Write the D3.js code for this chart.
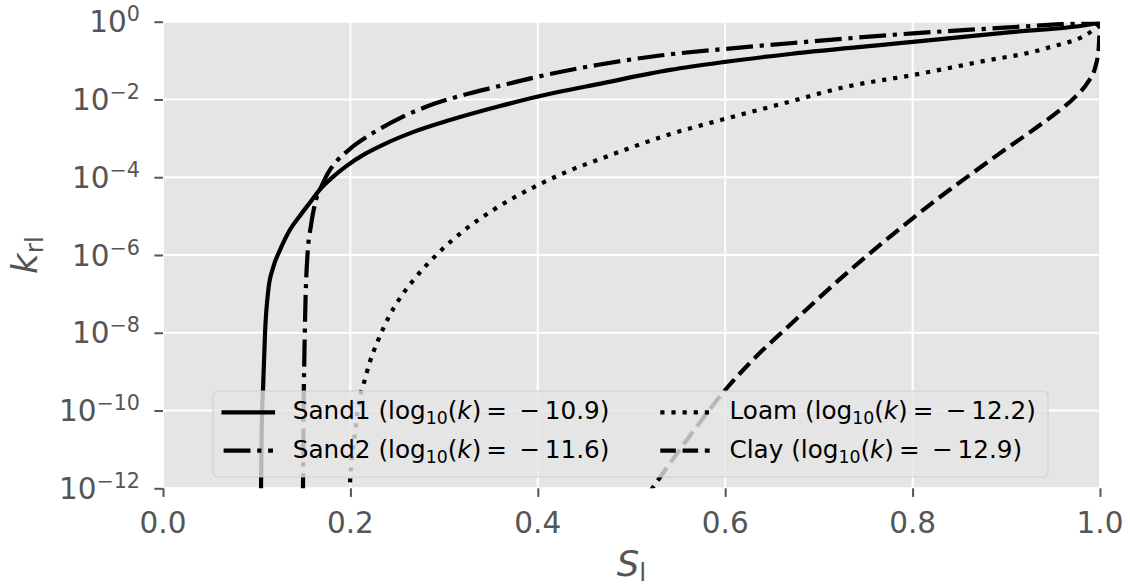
<!DOCTYPE html>
<html>
<head>
<meta charset="utf-8">
<script src="https://cdn.jsdelivr.net/npm/d3@7"></script>
<style>
  html, body { margin: 0; padding: 0; background: #fff; }
  svg { display: block; }
  text { font-family: "DejaVu Sans", sans-serif; }
</style>
</head>
<body>
<svg id="chart" width="1130" height="588"></svg>
<script>
// ---- Data ----
// Saturation S_l and log10(k_rl) for each soil
const sand1S    = [0.1043, 0.1046, 0.1053, 0.1070, 0.1089, 0.1124, 0.1177, 0.1249, 0.1355, 0.1462, 0.1569, 0.1676, 0.1814, 0.1964, 0.2156, 0.2369, 0.2668, 0.3063, 0.3597, 0.3991, 0.4696, 0.5411, 0.5977, 0.6692, 0.8004, 0.8997, 0.9963, 1.0000];
const sand1LogK = [-12.30, -12.02, -10.57, -9.29, -8.00, -6.90, -6.31, -5.87, -5.35, -4.99, -4.65, -4.31, -3.99, -3.70, -3.40, -3.14, -2.84, -2.53, -2.17, -1.93, -1.58, -1.24, -1.04, -0.83, -0.52, -0.28, -0.04, 0.0];

const sand2S    = [0.1489, 0.1494, 0.1499, 0.1508, 0.1521, 0.1542, 0.1580, 0.1633, 0.1697, 0.1761, 0.1846, 0.1996, 0.2209, 0.2529, 0.2850, 0.3095, 0.3597, 0.3991, 0.4664, 0.5304, 0.5998, 0.6809, 0.8004, 0.8933, 1.0000];
const sand2LogK = [-12.30, -12.01, -10.24, -8.70, -7.15, -6.00, -5.23, -4.58, -4.20, -3.89, -3.61, -3.27, -2.91, -2.48, -2.15, -1.96, -1.65, -1.42, -1.10, -0.87, -0.70, -0.53, -0.30, -0.16, 0.0];

const loamS     = [0.1975, 0.1993, 0.2049, 0.2102, 0.2138, 0.2209, 0.2298, 0.2404, 0.2529, 0.2689, 0.2938, 0.3223, 0.3525, 0.3970, 0.4308, 0.4700, 0.5410, 0.5980, 0.6592, 0.7297, 0.8007, 0.8720, 0.9430, 0.9928, 1.0000];
const loamLogK  = [-13.0, -12.0, -10.57, -9.64, -9.34, -8.74, -8.18, -7.62, -7.11, -6.60, -5.95, -5.35, -4.84, -4.24, -3.86, -3.50, -2.895, -2.51, -2.12, -1.67, -1.37, -1.03, -0.68, -0.21, 0.0];

const clayS     = [0.5144, 0.5219, 0.5624, 0.6019, 0.6339, 0.6659, 0.6980, 0.7300, 0.7652, 0.8004, 0.8324, 0.8613, 0.8933, 0.9253, 0.9520, 0.9733, 0.9872, 0.9947, 0.9984, 1.0000];
const clayLogK  = [-12.27, -12.01, -10.65, -9.42, -8.59, -7.87, -7.15, -6.46, -5.74, -5.05, -4.45, -3.94, -3.38, -2.84, -2.37, -1.94, -1.55, -1.19, -0.73, 0.0];

const seriesNames  = ["Sand1", "Sand2", "Loam", "Clay"];
const seriesLog10k = ["10.9", "11.6", "12.2", "12.9"];

// Tick labels
const xTicks    = [0.0, 0.2, 0.4, 0.6, 0.8, 1.0];
const yTickExps = [0, -2, -4, -6, -8, -10, -12];

// ---- Layout ----
const plot = { left: 163, right: 1100, top: 21.7, bottom: 488.3 };
const LW = 4.2;
const tickFont = 29.5, legendFont = 24.7, labelFont = 35.6;
const grayText = "#555555";

const svg = d3.select("#chart");

const x = d3.scaleLinear().domain([0, 1]).range([plot.left, plot.right]);
const y = d3.scaleLog().domain([1e-12, 1]).range([plot.bottom, plot.top]);

// background
svg.append("rect")
  .attr("x", plot.left).attr("y", plot.top)
  .attr("width", plot.right - plot.left).attr("height", plot.bottom - plot.top)
  .attr("fill", "#E5E5E5");

// grid
const grid = svg.append("g");
grid.selectAll("line.gx").data(xTicks).enter().append("line")
  .attr("x1", d => x(d)).attr("x2", d => x(d))
  .attr("y1", plot.top).attr("y2", plot.bottom)
  .attr("stroke", "#fff").attr("stroke-width", 2);
grid.selectAll("line.gy").data(yTickExps).enter().append("line")
  .attr("y1", d => y(Math.pow(10, d))).attr("y2", d => y(Math.pow(10, d)))
  .attr("x1", plot.left).attr("x2", plot.right)
  .attr("stroke", "#fff").attr("stroke-width", 2);

// axes (tick marks)
const xAxis = d3.axisBottom(x).tickValues(xTicks).tickSize(8.6).tickFormat("");
const yAxis = d3.axisLeft(y).tickValues(yTickExps.map(e => Math.pow(10, e))).tickSize(8.6).tickFormat("");
const gx = svg.append("g").attr("transform", `translate(0,${plot.bottom})`).call(xAxis);
const gy = svg.append("g").attr("transform", `translate(${plot.left},0)`).call(yAxis);
[gx, gy].forEach(g => {
  g.select(".domain").remove();
  g.selectAll(".tick line").attr("stroke", grayText).attr("stroke-width", 2);
});

// x tick labels
svg.append("g").selectAll("text").data(xTicks).enter().append("text")
  .attr("x", d => x(d)).attr("y", 533)
  .attr("text-anchor", "middle")
  .attr("font-size", tickFont).attr("fill", grayText)
  .text(d => d3.format(".1f")(d));

// y tick labels 10^e
const yl = svg.append("g").selectAll("text").data(yTickExps).enter().append("text")
  .attr("x", 140).attr("y", d => y(Math.pow(10, d)) + 10.5)
  .attr("text-anchor", "end")
  .attr("font-size", tickFont).attr("fill", grayText);
yl.append("tspan").text("10");
yl.append("tspan").attr("dy", -11).attr("font-size", tickFont * 0.7)
  .text(d => (d < 0 ? "\u2212" : "") + Math.abs(d));

// axis labels
const xLab = svg.append("text")
  .attr("x", (plot.left + plot.right) / 2).attr("y", 576)
  .attr("text-anchor", "middle").attr("font-size", labelFont).attr("fill", grayText);
xLab.append("tspan").attr("font-style", "italic").text("S");
xLab.append("tspan").attr("dy", 5).attr("font-size", labelFont * 0.7).text("l");

const yLab = svg.append("text")
  .attr("transform", `translate(37,${(plot.top + plot.bottom) / 2}) rotate(-90)`)
  .attr("text-anchor", "middle").attr("font-size", labelFont).attr("fill", grayText);
yLab.append("tspan").attr("font-style", "italic").text("k");
yLab.append("tspan").attr("dy", 6).attr("font-size", labelFont * 0.7).text("rl");

// clip
svg.append("clipPath").attr("id", "clip").append("rect")
  .attr("x", plot.left).attr("y", plot.top)
  .attr("width", plot.right - plot.left).attr("height", plot.bottom - plot.top);

const dashes = [
  null,
  [6.4 * LW, 1.6 * LW, 1 * LW, 1.6 * LW].join(","),
  [1 * LW, 1.65 * LW].join(","),
  [3.7 * LW, 1.6 * LW].join(",")
];

const series = [
  { s: sand1S, k: sand1LogK },
  { s: sand2S, k: sand2LogK },
  { s: loamS,  k: loamLogK },
  { s: clayS,  k: clayLogK }
];

const line = d3.line()
  .x(d => x(d[0]))
  .y(d => y(Math.pow(10, d[1])))
  .curve(d3.curveMonotoneX);

const lines = svg.append("g").attr("clip-path", "url(#clip)");
series.forEach((ser, i) => {
  const pts = ser.s.map((v, j) => [v, ser.k[j]]);
  lines.append("path")
    .attr("d", line(pts))
    .attr("fill", "none")
    .attr("stroke", "#000")
    .attr("stroke-width", LW)
    .attr("stroke-linecap", "butt")
    .attr("stroke-linejoin", "round")
    .attr("stroke-dasharray", dashes[i]);
});

// legend
const leg = svg.append("g");
leg.append("rect")
  .attr("x", 213).attr("y", 391).attr("width", 835).attr("height", 86)
  .attr("rx", 5).attr("ry", 5)
  .attr("fill", "#E5E5E5").attr("fill-opacity", 0.8)
  .attr("stroke", "#CCCCCC").attr("stroke-opacity", 0.8).attr("stroke-width", 1.2);

const colX = [223.6, 660.3];
const rowY = [412.3, 450.7];
const handleLen = 2.0 * legendFont;
seriesNames.forEach((name, i) => {
  const col = Math.floor(i / 2), row = i % 2;
  const x0 = colX[col], yy = rowY[row];
  leg.append("line")
    .attr("x1", x0).attr("x2", x0 + handleLen)
    .attr("y1", yy).attr("y2", yy)
    .attr("stroke", "#000").attr("stroke-width", LW)
    .attr("stroke-linecap", i === 0 ? "square" : "butt")
    .attr("stroke-dasharray", dashes[i]);
  const t = leg.append("text")
    .attr("x", x0 + handleLen + 0.8 * legendFont)
    .attr("y", yy + 7)
    .attr("font-size", legendFont).attr("fill", "#000");
  t.append("tspan").text(name + " (log");
  t.append("tspan").attr("dy", 5).attr("font-size", legendFont * 0.7).text("10");
  t.append("tspan").attr("dy", -5).text("(");
  t.append("tspan").attr("font-style", "italic").text("k");
  t.append("tspan").text(")\u2009=\u2002\u2212\u2009" + seriesLog10k[i] + ")");
});
</script>
</body>
</html>
